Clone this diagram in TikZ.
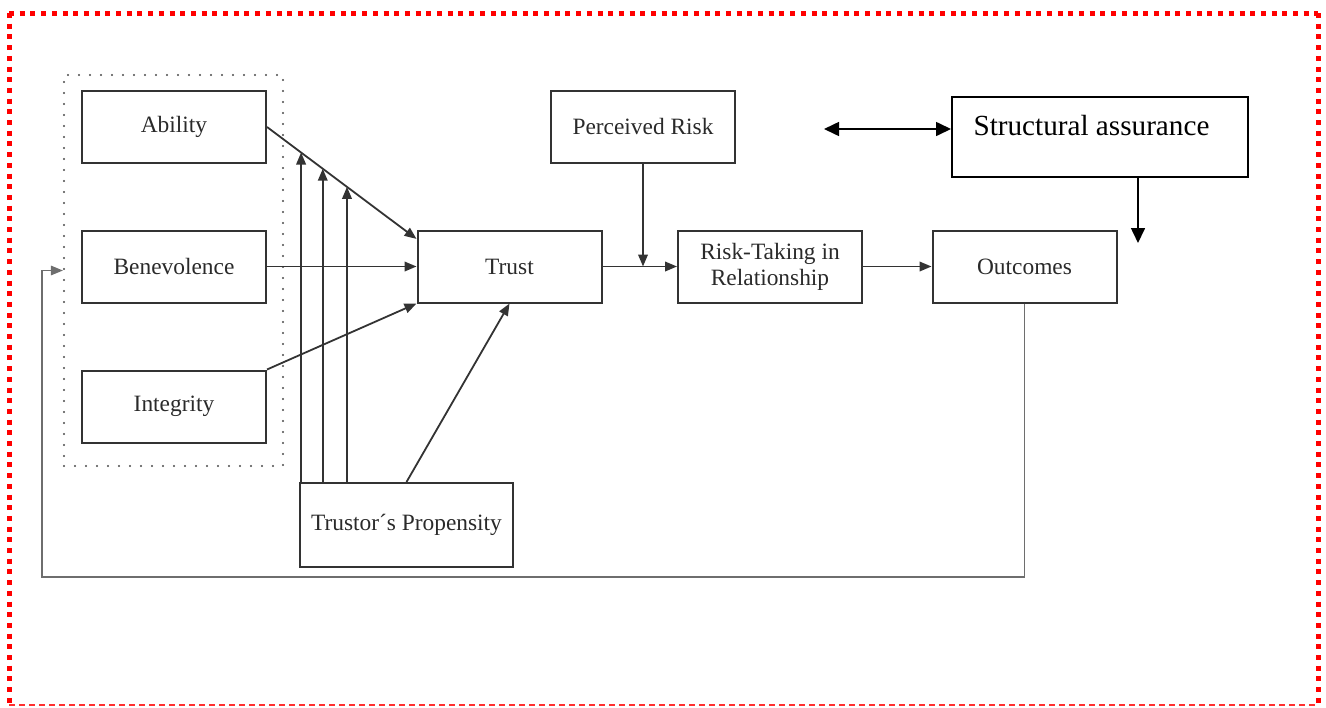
\documentclass[tikz,border=0pt]{standalone}
\usepackage{fontspec}
\setmainfont{Liberation Serif}
\usetikzlibrary{arrows.meta,calc}

\definecolor{boxc}{HTML}{333333}
\definecolor{txtc}{HTML}{2A2A2A}
\definecolor{fbc}{HTML}{6E6E6E}
\definecolor{dotc}{HTML}{4A4A4A}
\definecolor{framered}{HTML}{FF0000}
\definecolor{framelight}{HTML}{FF3030}

\tikzset{
  bigtip/.tip={Triangle[length=7.5pt,width=7pt]},
  smalltip/.tip={Triangle[length=6pt,width=4.8pt]},
  modelbox/.style={draw=boxc, line width=1pt, inner sep=0pt, minimum width=92pt,
    minimum height=36pt, text=txtc, align=center,
    font=\fontsize{11.7}{13}\selectfont},
  conn/.style={draw=boxc, line width=0.9pt, -{smalltip}},
  bigconn/.style={draw=black, line width=0.8pt},
  feedback/.style={draw=fbc, line width=0.6pt, -{smalltip}},
  groupbox/.style={draw=dotc, line width=1.1pt, line cap=round,
    dash pattern=on 0pt off 5.5pt, inner sep=0pt},
  reddots/.style={draw=framered, line width=2.5pt, dash pattern=on 2.5pt off 2.85pt},
  redthin/.style={draw=framelight, line width=0.9pt, dash pattern=on 3pt off 2pt},
}

\begin{document}
\begin{tikzpicture}[x=0.5pt, y=-0.5pt]
\useasboundingbox (0,0) rectangle (1326,707);

% outer frame
\draw[reddots] (9,13) -- (1318,13);
\draw[reddots] (9,13) -- (9,706);
\draw[reddots] (1318,13) -- (1318,706);
\draw[redthin] (9,705.3) -- (1318,705.3);

% dotted group around the three trustworthiness factors
\node[groupbox, minimum width=109.5pt, minimum height=195.5pt] (grp) at (173.5,270.5) {};

% factor boxes
\node[modelbox] (ab) at (174,127) {Ability};
\node[modelbox] (be) at (174,266.5) {Benevolence};
\node[modelbox] (in) at (174,406.5) {Integrity};

% main chain
\node[modelbox] (tr) at (509.5,266.5) {Trust};
\node[modelbox] (pr) at (643,126.5) {Perceived Risk};
\node[modelbox] (rt) at (770,266.5) {Risk-Taking in\\Relationship};
\node[modelbox] (out) at (1024.5,266.5) {Outcomes};
\node[modelbox, minimum width=106.5pt, minimum height=42pt] (tp) at (406.5,525) {Trustor´s Propensity};

% structural assurance box, text set at the top left
\node[draw=black, line width=0.8pt, anchor=north west, inner xsep=10.85pt, inner ysep=0pt,
      text height=19.5pt, text depth=20.5pt,
      font=\fontsize{14.6}{17}\selectfont] (sa) at (951,96)
      {\makebox[126.3pt][l]{Structural assurance}};

% factors to trust
\coordinate (trin) at ($(tr.north west)!0.127!(tr.south west)$);
\draw[conn] (ab.east) -- (trin);
\draw[conn] (be.east) -- (tr.west);
\draw[conn] (in.north east) -- (tr.south west);

% propensity moderating the ability path and feeding trust
\path (ab.east) -- (trin)
  coordinate[pos=0.228] (m1)
  coordinate[pos=0.373] (m2)
  coordinate[pos=0.535] (m3);
\draw[conn] (m1 |- tp.north) -- (m1);
\draw[conn] (m2 |- tp.north) -- (m2);
\draw[conn] (m3 |- tp.north) -- (m3);
\draw[conn] (tp.north) -- (tr.south);

% trust to risk taking to outcomes
\draw[conn] (tr.east) -- (rt.west);
\draw[conn] (pr.south) -- (pr.south |- tr.east);
\draw[conn] (rt.east) -- (out.west);

% structural assurance links
\coordinate (dl) at (824,129);
\draw[bigconn, {bigtip}-{bigtip}] (dl) -- (dl -| sa.west);
\coordinate (sd) at (1138,243);
\draw[bigconn, -{bigtip}] (sd |- sa.south) -- (sd);

% feedback loop from outcomes
\coordinate (fb) at (42,577);
\draw[feedback] (out.south) |- (fb) |- (grp.west);
\end{tikzpicture}
\end{document}
